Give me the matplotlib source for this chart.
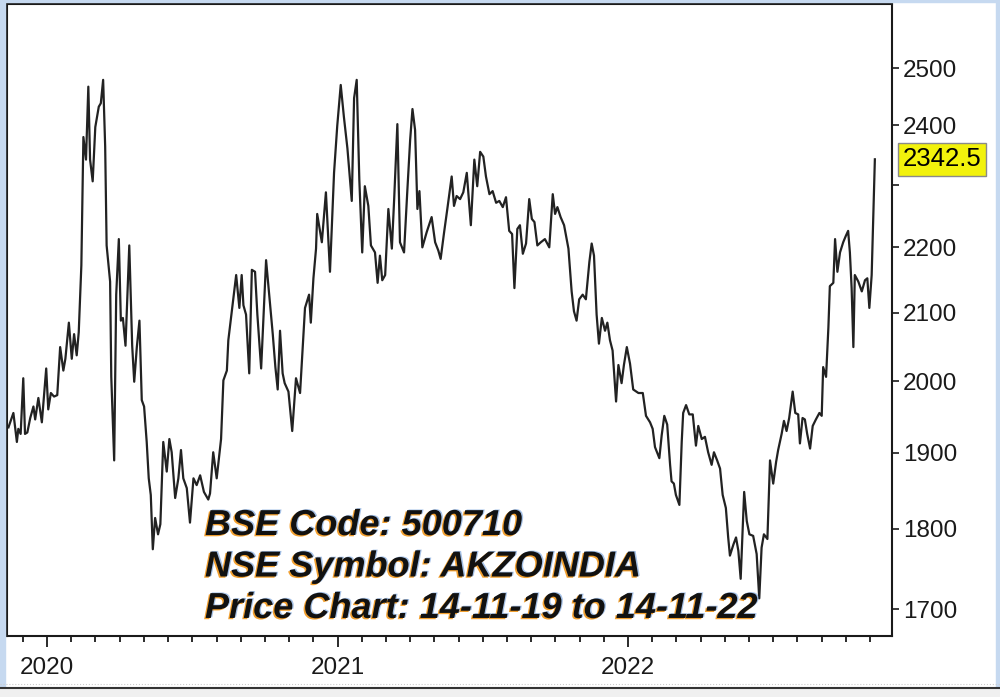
import numpy as np
import matplotlib.pyplot as plt
import matplotlib.patheffects as pe
from matplotlib.patches import Rectangle
from matplotlib.lines import Line2D
from matplotlib.ticker import NullLocator

plt.rcParams['font.family'] = ['Liberation Sans', 'DejaVu Sans']

# price readings (decimal year, close)
yrs_a = [2019.867, 2019.884, 2019.896, 2019.901, 2019.909, 2019.918, 2019.924, 2019.932, 2019.942, 2019.953,
         2019.959, 2019.970, 2019.982, 2019.997, 2020.004, 2020.013, 2020.024, 2020.035, 2020.045, 2020.056,
         2020.063, 2020.075, 2020.085, 2020.093, 2020.102, 2020.109, 2020.118, 2020.125, 2020.134, 2020.142,
         2020.148, 2020.157, 2020.166, 2020.178, 2020.185, 2020.193, 2020.200, 2020.205, 2020.217, 2020.221,
         2020.231, 2020.238, 2020.247, 2020.254, 2020.261, 2020.270, 2020.283, 2020.293, 2020.300, 2020.309,
         2020.318, 2020.326, 2020.334, 2020.343, 2020.350, 2020.357, 2020.364, 2020.372, 2020.382, 2020.390,
         2020.400, 2020.412, 2020.421, 2020.429, 2020.441, 2020.452, 2020.461, 2020.469, 2020.481, 2020.492,
         2020.504, 2020.515, 2020.527, 2020.540, 2020.555]
prices_a = [1935, 1955, 1915, 1933, 1926, 2004, 1926, 1928, 1948, 1964,
            1946, 1976, 1942, 2018, 1960, 1983, 1978, 1980, 2049, 2015,
            2032, 2085, 2032, 2068, 2037, 2071, 2172, 2380, 2342, 2467,
            2342, 2306, 2397, 2432, 2438, 2479, 2364, 2203, 2147, 2006,
            1890, 2127, 2213, 2088, 2092, 2051, 2203, 2051, 1999, 2049,
            2088, 1973, 1964, 1915, 1866, 1844, 1774, 1814, 1793, 1806,
            1915, 1875, 1919, 1901, 1840, 1866, 1904, 1866, 1853, 1808,
            1866, 1857, 1870, 1848, 1838]

yrs_b = [2020.561, 2020.572, 2020.584, 2020.599, 2020.607, 2020.619, 2020.624, 2020.636, 2020.651, 2020.662,
         2020.670, 2020.676, 2020.685, 2020.696, 2020.705, 2020.716, 2020.724, 2020.737, 2020.754, 2020.765,
         2020.777, 2020.786, 2020.794, 2020.802, 2020.811, 2020.818, 2020.831, 2020.844, 2020.857, 2020.871,
         2020.880, 2020.888, 2020.902, 2020.908, 2020.917, 2020.926, 2020.930, 2020.946, 2020.960, 2020.974,
         2020.988, 2020.999]
prices_b = [1846, 1901, 1866, 1919, 2001, 2015, 2059, 2102, 2157, 2107,
            2157, 2111, 2097, 2011, 2165, 2162, 2097, 2018, 2180, 2125,
            2068, 2020, 1988, 2073, 2011, 1997, 1985, 1930, 2004, 1983,
            2049, 2107, 2127, 2085, 2152, 2198, 2253, 2208, 2288, 2162,
            2320, 2399]

yrs_c = [2021.011, 2021.022, 2021.034, 2021.049, 2021.057, 2021.066, 2021.075, 2021.085, 2021.094, 2021.106,
         2021.115, 2021.129, 2021.138, 2021.146, 2021.154, 2021.164, 2021.175, 2021.187, 2021.195, 2021.206,
         2021.215, 2021.229, 2021.240, 2021.250, 2021.258, 2021.267, 2021.275, 2021.282, 2021.292, 2021.307,
         2021.324, 2021.336, 2021.347, 2021.355, 2021.367, 2021.378, 2021.393, 2021.401, 2021.410, 2021.422,
         2021.433, 2021.445, 2021.459, 2021.471, 2021.481, 2021.491, 2021.502, 2021.511, 2021.523, 2021.534,
         2021.546, 2021.557, 2021.569, 2021.580, 2021.591, 2021.601, 2021.609, 2021.619, 2021.628, 2021.638,
         2021.649, 2021.660, 2021.669, 2021.678, 2021.688, 2021.700, 2021.714, 2021.729, 2021.741, 2021.749,
         2021.757, 2021.768, 2021.780, 2021.795, 2021.806, 2021.814, 2021.823, 2021.832, 2021.844, 2021.855,
         2021.867, 2021.875, 2021.883, 2021.892, 2021.900, 2021.910, 2021.921, 2021.929, 2021.938, 2021.947,
         2021.959, 2021.967, 2021.978, 2021.986, 2021.996]
prices_c = [2470, 2414, 2361, 2274, 2447, 2479, 2309, 2192, 2298, 2266,
            2203, 2192, 2145, 2187, 2149, 2157, 2261, 2198, 2277, 2402,
            2208, 2192, 2288, 2375, 2428, 2392, 2261, 2290, 2200, 2224,
            2248, 2208, 2195, 2182, 2224, 2261, 2314, 2266, 2282, 2277,
            2288, 2320, 2235, 2342, 2298, 2355, 2347, 2314, 2285, 2290,
            2271, 2274, 2264, 2280, 2226, 2221, 2137, 2229, 2235, 2190,
            2206, 2277, 2245, 2240, 2203, 2208, 2213, 2200, 2285, 2253,
            2264, 2248, 2235, 2198, 2132, 2102, 2088, 2120, 2127, 2120,
            2177, 2206, 2187, 2097, 2054, 2092, 2073, 2085, 2059, 2044,
            1971, 2023, 1997, 2023, 2049]

yrs_d = [2022.007, 2022.018, 2022.036, 2022.051, 2022.062, 2022.076, 2022.085, 2022.093, 2022.108, 2022.116,
         2022.125, 2022.135, 2022.145, 2022.150, 2022.158, 2022.165, 2022.177, 2022.185, 2022.190, 2022.200,
         2022.211, 2022.223, 2022.234, 2022.242, 2022.254, 2022.265, 2022.276, 2022.288, 2022.296, 2022.307,
         2022.317, 2022.326, 2022.337, 2022.345, 2022.351, 2022.363, 2022.372, 2022.380, 2022.388, 2022.395,
         2022.400, 2022.409, 2022.418, 2022.431, 2022.443, 2022.452, 2022.460, 2022.468, 2022.480, 2022.489,
         2022.500, 2022.510, 2022.517, 2022.529, 2022.537, 2022.546, 2022.555, 2022.567, 2022.576, 2022.586,
         2022.592, 2022.601, 2022.609, 2022.617, 2022.627, 2022.636, 2022.647, 2022.659, 2022.667, 2022.672,
         2022.682, 2022.690, 2022.695, 2022.707, 2022.713, 2022.721, 2022.730, 2022.741, 2022.750, 2022.758,
         2022.764, 2022.770, 2022.776, 2022.781, 2022.793, 2022.805, 2022.816, 2022.824, 2022.831, 2022.839,
         2022.844, 2022.850]
prices_d = [2025, 1988, 1983, 1983, 1951, 1942, 1933, 1908, 1893, 1924,
            1951, 1939, 1884, 1862, 1859, 1844, 1831, 1915, 1955, 1966,
            1953, 1953, 1910, 1937, 1919, 1922, 1901, 1884, 1901, 1890,
            1879, 1844, 1827, 1789, 1766, 1780, 1789, 1772, 1737, 1802,
            1848, 1810, 1793, 1791, 1768, 1713, 1776, 1793, 1787, 1890,
            1859, 1888, 1904, 1926, 1944, 1930, 1948, 1985, 1955, 1953,
            1913, 1948, 1946, 1926, 1906, 1937, 1946, 1955, 1951, 2020,
            2006, 2078, 2140, 2145, 2213, 2162, 2192, 2208, 2218, 2226,
            2192, 2137, 2049, 2157, 2147, 2132, 2149, 2152, 2107, 2157,
            2240, 2342.5]

y_ticks = [1700, 1800, 1900, 2000, 2100, 2200, 2300, 2400, 2500]
y_labels = ['1700', '1800', '1900', '2000', '2100', '2200', '', '2400', '2500']
year_ticks = [2020, 2021, 2022]
info_lines = ['BSE Code: 500710', 'NSE Symbol: AKZOINDIA', 'Price Chart: 14-11-19 to 14-11-22']

years = np.array(yrs_a + yrs_b + yrs_c + yrs_d)
prices = np.array(prices_a + prices_b + prices_c + prices_d)

dark = '#1a1a1a'
fig = plt.figure(figsize=(10, 6.97), dpi=100)
ax = fig.add_axes([0.007, 0.0875, 0.885, 0.9068])

ax.plot(years, prices, color='#222222', lw=1.6)

ax.set_yscale('log')
ax.set_ylim(1667.6, 2616.8)
ax.set_xlim(2019.862, 2022.909)

ax.yaxis.tick_right()
ax.yaxis.set_minor_locator(NullLocator())
ax.set_yticks(y_ticks)
ax.set_yticklabels(y_labels)
ax.tick_params(axis='y', which='major', direction='out', length=5, width=1.2,
               labelsize=17.5, pad=3, colors=dark)

# year labels plus monthly minor ticks
months = [y + m / 12 for y in range(2019, 2023) for m in range(12)]
ax.set_xticks(year_ticks)
ax.set_xticklabels([str(y) for y in year_ticks])
ax.set_xticks([m for m in months if 2019.862 <= m <= 2022.909 and m not in year_ticks], minor=True)
ax.tick_params(axis='x', which='major', direction='out', length=8, width=1.3,
               labelsize=17.5, pad=7, colors=dark)
ax.tick_params(axis='x', which='minor', direction='out', length=4.5, width=1.3, colors=dark)

for s in ax.spines.values():
    s.set_linewidth(1.5)
    s.set_color(dark)

# last price tag
ax.annotate(f'{prices[-1]:.1f}', xy=(1, prices[-1]), xycoords=('axes fraction', 'data'),
            xytext=(8, 0), textcoords='offset points', ha='left', va='center',
            fontsize=18.5, color='black', annotation_clip=False,
            bbox=dict(boxstyle='square,pad=0.18', fc='#f2f20c', ec='#8a8a8a', lw=1))

# info text block
fx = [pe.SimplePatchShadow(offset=(1.0, 0.5), shadow_rgbFace='#4f86d0', alpha=0.5),
      pe.SimplePatchShadow(offset=(-1.1, -0.9), shadow_rgbFace='#f0900c', alpha=0.85),
      pe.Normal()]
for i, line in enumerate(info_lines):
    fig.text(0.205, 0.2324 - i * 0.0595, line, fontsize=26, fontweight='bold',
             fontstyle='italic', color='#111111',
             va='baseline', ha='left', path_effects=fx)

# window frame bits around the screenshot
fig.patches.append(Rectangle((0, 0.014), 0.005, 0.986, transform=fig.transFigure,
                             color='#c6d9f0', zorder=0))
fig.patches.append(Rectangle((0.996, 0.014), 0.004, 0.986, transform=fig.transFigure,
                             color='#c6d9f0', zorder=0))
fig.patches.append(Rectangle((0, 0.997), 1, 0.003, transform=fig.transFigure,
                             color='#c6d9f0', zorder=0))
fig.patches.append(Rectangle((0, 0), 1, 0.013, transform=fig.transFigure,
                             color='#f0f0f0', zorder=0))
fig.lines.append(Line2D([0, 1], [0.0135, 0.0135], transform=fig.transFigure,
                        color='#333333', lw=1.5))
fig.lines.append(Line2D([0, 1], [0.018, 0.018], transform=fig.transFigure,
                        color='#cccccc', lw=0.8, ls=':'))

fig.savefig('out.png', dpi=100)
